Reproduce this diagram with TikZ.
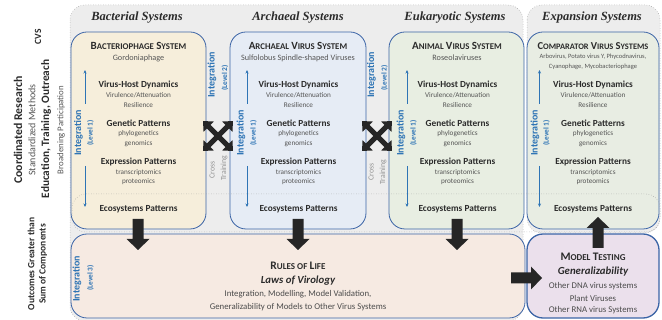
\documentclass[tikz,border=0pt]{standalone}
\usepackage{fontspec}
\setmainfont{Carlito}
\newfontfamily\headfont{Liberation Serif}
\usetikzlibrary{arrows.meta}

\definecolor{graybg}{HTML}{EDEDED}
\definecolor{dotc}{HTML}{9A9A9A}
\definecolor{boxb}{HTML}{3B64A6}
\definecolor{bacc}{HTML}{F6EEDB}
\definecolor{arcc}{HTML}{E6ECF5}
\definecolor{anic}{HTML}{E8EEE2}
\definecolor{cmpc}{HTML}{E8EDE3}
\definecolor{rulc}{HTML}{F6EAE2}
\definecolor{modc}{HTML}{EBE0EC}
\definecolor{intc}{HTML}{2E74B5}
\definecolor{txtc}{HTML}{2B2B2B}
\definecolor{subc}{HTML}{555555}
\definecolor{arrc}{HTML}{262626}

\newcommand\myfsz[1]{\fontsize{#1}{#1}\selectfont}
\newcommand\myscx[2]{{\myfsz{11}#1}{\myfsz{8.8}#2}}
\newcommand\myscz[2]{{\myfsz{10.6}#1}{\myfsz{8.4}#2}}
\newcommand\myscy[2]{{\myfsz{11.5}#1}{\myfsz{9}#2}}

\tikzset{
  colhead/.style={font=\headfont\bfseries\itshape\myfsz{12.5}, text=txtc},
  systitle/.style={font=\bfseries, text=txtc},
  sysub/.style={font=\myfsz{8.2}, text=subc},
  cmpsub/.style={font=\myfsz{6.5}, text=subc},
  pat/.style={font=\bfseries\myfsz{9.3}, text=txtc},
  patsub/.style={font=\myfsz{7.2}, text=subc},
  intl/.style={rotate=90, font=\bfseries\myfsz{10}, text=intc},
  intlev/.style={rotate=90, font=\bfseries\myfsz{7.4}, text=intc},
  crosst/.style={rotate=90, font=\myfsz{7.8}, text=gray!85},
  sidebold/.style={rotate=90, font=\bfseries\myfsz{11.3}, text=txtc},
  sidereg/.style={rotate=90, font=\myfsz{10}, text=subc},
  sysbox/.style={draw=boxb, line width=0.8pt, rounded corners=16pt},
  region/.style={fill=graybg, draw=dotc, dotted, line width=0.5pt, rounded corners=15pt},
  intarrow/.style={draw=intc, line width=0.7pt, -{Stealth[length=3.5pt,width=3pt]}},
  xarrow/.style={draw=arrc, line width=5pt, {Triangle[length=8pt,width=14pt]}-{Triangle[length=8pt,width=14pt]}},
  pics/barrow/.style={code={\fill[arrc] (0,-5.5) -- (20,-5.5) -- (20,-11.5) -- (31,0) -- (20,11.5) -- (20,5.5) -- (0,5.5) -- cycle;}}
}

\newcommand\syspatterns[2]{%
  \node[pat] (#1vh) at (#2,85) {Virus-Host Dynamics};
  \node[patsub] (#1vha) at (#2,95.5) {Virulence/Attenuation};
  \node[patsub] (#1vhb) at (#2,105.5) {Resilience};
  \node[pat] (#1gp) at (#2,123) {Genetic Patterns};
  \node[patsub] (#1gpa) at (#2,133.5) {phylogenetics};
  \node[patsub] (#1gpb) at (#2,143.5) {genomics};
  \node[pat] (#1ep) at (#2,162) {Expression Patterns};
  \node[patsub] (#1epa) at (#2,172.5) {transcriptomics};
  \node[patsub] (#1epb) at (#2,181.5) {proteomics};
  \node[pat] (#1es) at (#2,209) {Ecosystems Patterns};
}
\newcommand\intlevelone[4]{%
  \node[intl] (#1i1) at (#2,133) {Integration};
  \node[intlev] (#1l1) at (#3,133) {(Level 1)};
  \coordinate (#1ua) at (#4,104);
  \coordinate (#1ub) at (#4,70);
  \coordinate (#1da) at (#4,166);
  \coordinate (#1db) at (#4,207);
  \draw[intarrow] (#1ua) -- (#1ub);
  \draw[intarrow] (#1da) -- (#1db);
}

\begin{document}
\begin{tikzpicture}[x=1pt,y=-1pt, every node/.style={inner sep=0pt, outer sep=0pt}]
\useasboundingbox (0,0) rectangle (662,320);

% background regions
\path[region] (70,5) rectangle (523,321);
\path[region] (527,5) rectangle (660,233);

% system boxes
\path[sysbox, fill=bacc] (71,32) rectangle (206,229);
\path[sysbox, fill=arcc] (230,32) rectangle (366,229);
\path[sysbox, fill=anic] (389,32) rectangle (524,229);
\path[sysbox, fill=cmpc] (527,32) rectangle (659,229);

% ecosystems band
\draw[dotc, dotted, line width=0.5pt, rounded corners=14pt] (72,194) rectangle (660,232);

% outcome boxes
\path[sysbox, fill=rulc] (71,234) rectangle (525,318);
\path[draw=boxb, line width=1.3pt, rounded corners=16pt, fill=modc] (527,234) rectangle (659,318);

% column headings
\node[colhead] (hbac) at (137,18) {Bacterial Systems};
\node[colhead] (harc) at (298,18) {Archaeal Systems};
\node[colhead] (heuk) at (455,18) {Eukaryotic Systems};
\node[colhead] (hexp) at (592,18) {Expansion Systems};

% system titles
\node[systitle] (tbac) at (138.5,46) {\myscx{B}{ACTERIOPHAGE} \myscx{S}{YSTEM}};
\node[sysub] (sbac) at (138.5,58) {Gordoniaphage};
\node[systitle] (tarc) at (298,46) {\myscx{A}{RCHAEAL} \myscx{V}{IRUS} \myscx{S}{YSTEM}};
\node[sysub] (sarc) at (298,58) {Sulfolobus Spindle-shaped Viruses};
\node[systitle] (tani) at (457,46) {\myscx{A}{NIMAL} \myscx{V}{IRUS} \myscx{S}{YSTEM}};
\node[sysub] (sani) at (457,58) {Roseolaviruses};
\node[systitle] (tcmp) at (593,46) {\myscz{C}{OMPARATOR} \myscz{V}{IRUS} \myscz{S}{YSTEMS}};
\node[cmpsub] (scmpa) at (593,57) {Arbovirus, Potato virus Y, Phycodnavirus,};
\node[cmpsub] (scmpb) at (593,67) {Cyanophage, Mycobacteriophage};

\syspatterns{bac}{138.5}
\syspatterns{arc}{298.5}
\syspatterns{ani}{457.5}
\syspatterns{cmp}{593}

\intlevelone{bac}{78.5}{90.5}{85}
\intlevelone{arc}{241}{253.5}{247}
\intlevelone{ani}{401}{413.5}{407}
\intlevelone{cmp}{535}{546.5}{539.5}

% integration level 2
\node[intl] (i2a) at (212,75) {Integration};
\node[intlev] (l2a) at (225,78) {(Level 2)};
\node[intl] (i2b) at (371.5,75) {Integration};
\node[intlev] (l2b) at (384.5,78) {(Level 2)};

% cross training
\node[crosst] (cta) at (212,170) {Cross};
\node[crosst] (ctb) at (224,168) {Training};
\node[crosst] (ctc) at (371,172) {Cross};
\node[crosst] (ctd) at (383,172) {Training};

% crossing arrows
\coordinate (xa1) at (203,121); \coordinate (xa2) at (233,151);
\coordinate (xa3) at (203,151); \coordinate (xa4) at (233,121);
\draw[xarrow] (xa1) -- (xa2);
\draw[xarrow] (xa3) -- (xa4);
\coordinate (xb1) at (362,121); \coordinate (xb2) at (392,151);
\coordinate (xb3) at (362,151); \coordinate (xb4) at (392,121);
\draw[xarrow] (xb1) -- (xb2);
\draw[xarrow] (xb3) -- (xb4);

% block arrows
\coordinate (dbac) at (138,219);
\coordinate (darc) at (298,219);
\coordinate (dani) at (457,219);
\coordinate (ucmp) at (598,248);
\coordinate (rmod) at (511,278);
\pic[rotate=-90] at (dbac) {barrow};
\pic[rotate=-90] at (darc) {barrow};
\pic[rotate=-90] at (dani) {barrow};
\pic[rotate=90] at (ucmp) {barrow};
\pic at (rmod) {barrow};

% rules of life
\node[intl] (i3) at (77,279) {Integration};
\node[intlev] (l3) at (90.5,278) {(Level 3)};
\node[font=\bfseries, text=txtc] (rtitle) at (298,266) {\myscy{R}{ULES OF} \myscy{L}{IFE}};
\node[font=\bfseries\itshape\myfsz{10.8}, text=txtc] (rlaws) at (298,281) {Laws of Virology};
\node[font=\myfsz{8.8}, text=txtc!85] (rl1) at (298,294) {Integration, Modelling, Model Validation,};
\node[font=\myfsz{8.8}, text=txtc!85] (rl2) at (298,307) {Generalizability of Models to Other Virus Systems};

% model testing
\node[font=\bfseries, text=txtc] (mtitle) at (593,257) {\myscy{M}{ODEL} \myscy{T}{ESTING}};
\node[font=\bfseries\itshape\myfsz{10.8}, text=txtc] (mgen) at (593,272) {Generalizability};
\node[font=\myfsz{8.8}, text=txtc!85] (m1) at (593,286) {Other DNA virus systems};
\node[font=\myfsz{8.8}, text=txtc!85] (m2) at (593,298) {Plant Viruses};
\node[font=\myfsz{8.8}, text=txtc!85] (m3) at (593,310) {Other RNA virus Systems};

% side labels
\node[rotate=90, font=\bfseries\myfsz{9.5}, text=txtc] (cvs) at (38,37) {CVS};
\node[sidebold, font=\bfseries\myfsz{11.8}] (coord) at (18,130) {Coordinated Research};
\node[sidereg] (stdm) at (32,130) {Standardized Methods};
\node[sidebold] (edu) at (46,129) {Education, Training, Outreach};
\node[sidereg, font=\myfsz{8.8}] (broad) at (61,130) {Broadening Participation};
\node[rotate=90, font=\bfseries\myfsz{9.5}, text=txtc] (out1) at (31,264) {Outcomes Greater than};
\node[rotate=90, font=\bfseries\myfsz{9.5}, text=txtc] (out2) at (43,264) {Sum of Components};
\end{tikzpicture}
\end{document}
